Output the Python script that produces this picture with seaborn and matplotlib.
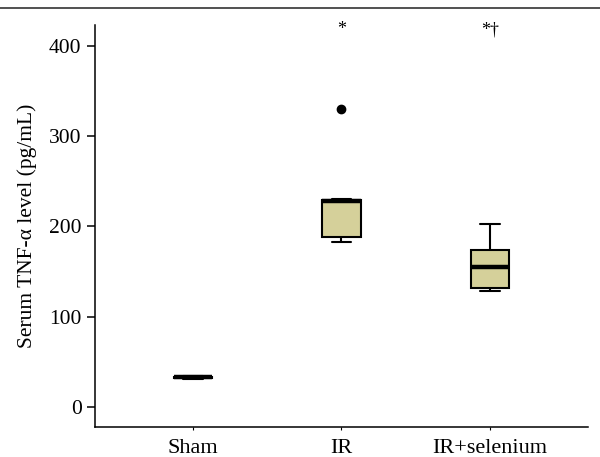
import pandas as pd
import matplotlib.pyplot as plt
import seaborn as sns
from matplotlib.lines import Line2D

# values (pg/mL)
groups = ['Sham', 'IR', 'IR+selenium']
sham_vals = [31.5, 32.0, 32.5, 33.0, 33.5, 34.0, 34.5]
ir_vals = [183, 185, 191, 228, 229, 230, 330]
ir_se_vals = [129, 130, 134, 155.5, 170, 177, 203]
marks = ['', '*', '*†']
mark_y = 418

df = pd.DataFrame({
    'group': ['Sham'] * len(sham_vals) + ['IR'] * len(ir_vals) + ['IR+selenium'] * len(ir_se_vals),
    'tnf': sham_vals + ir_vals + ir_se_vals,
})

sns.set_style('white')
plt.rcParams['font.family'] = ['Liberation Serif', 'DejaVu Serif']
plt.rcParams['text.color'] = 'black'
plt.rcParams['axes.labelcolor'] = 'black'
plt.rcParams['xtick.color'] = 'black'
plt.rcParams['ytick.color'] = 'black'

fig = plt.figure(figsize=(6, 4.57), dpi=100)
ax = fig.add_axes([0.158, 0.066, 0.822, 0.879])

sns.boxplot(data=df, x='group', y='tnf', order=groups, ax=ax,
            color='#d5d09a', saturation=1, width=0.26, linecolor='black',
            linewidth=1.5, whis=1.5,
            medianprops=dict(color='black', linewidth=3.2),
            flierprops=dict(marker='o', markerfacecolor='black',
                            markeredgecolor='black', markersize=6))

for i, m in enumerate(marks):
    if m:
        ax.text(i, mark_y, m, ha='center', va='center', fontsize=13)

ax.set_xlim(-0.66, 2.66)
ax.set_ylim(-22, 423)
ax.set_yticks([0, 100, 200, 300, 400])
ax.set_xlabel('')
ax.set_ylabel('Serum TNF-α level (pg/mL)', fontsize=15.5, labelpad=9)
ax.tick_params(axis='y', direction='out', length=6, width=1.1, pad=3.5,
               labelsize=15.5, left=True)
ax.tick_params(axis='x', direction='out', length=2.5, width=0.8, pad=6,
               labelsize=16, bottom=True)

for s in ['top', 'right']:
    ax.spines[s].set_visible(False)
for s in ['left', 'bottom']:
    ax.spines[s].set_color('black')
    ax.spines[s].set_linewidth(1.1)

# thin rule across the top of the figure
fig.add_artist(Line2D([0, 1], [0.982, 0.982], color='#333333', linewidth=1.2))

fig.savefig('out.png', dpi=100, facecolor='white')
